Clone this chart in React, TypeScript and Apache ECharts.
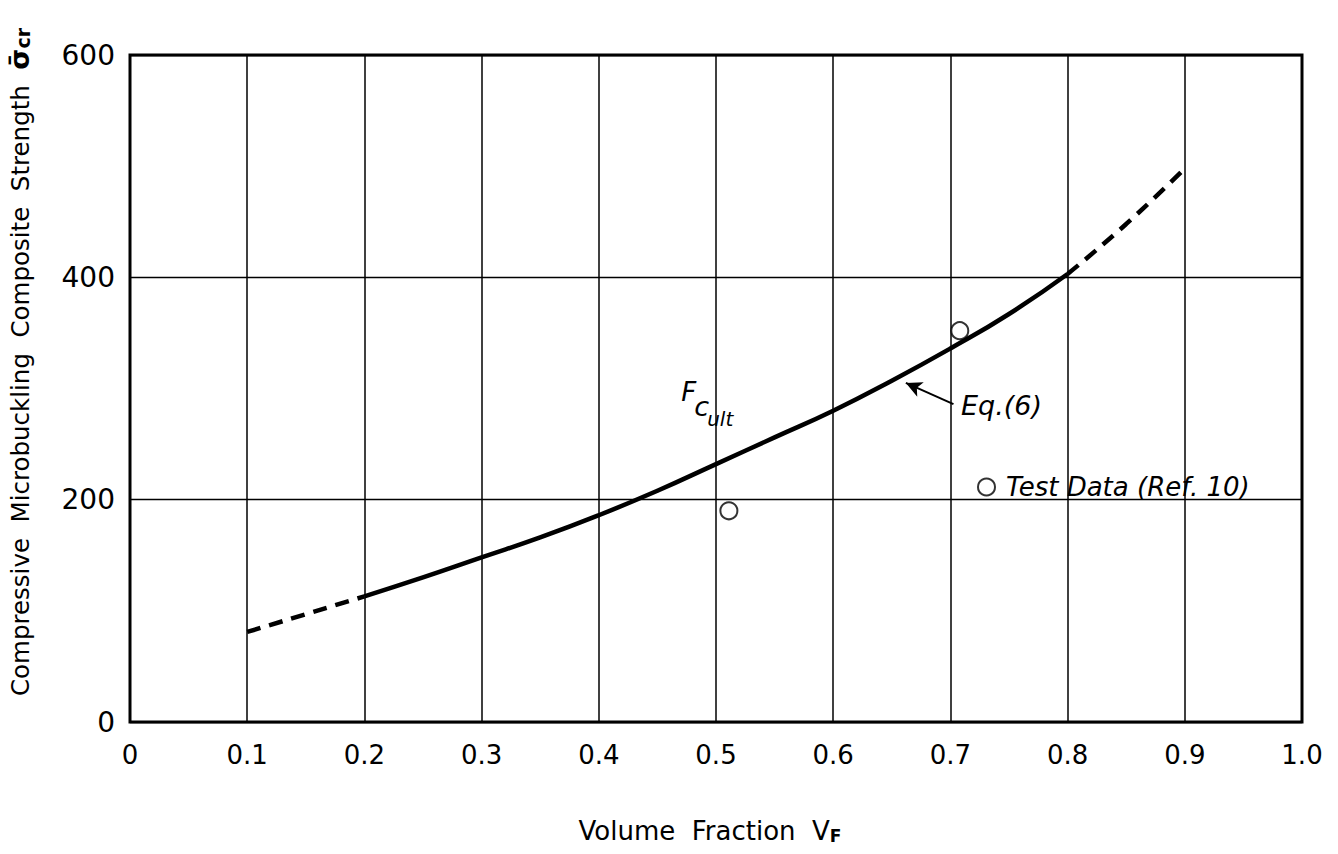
import React, { useEffect, useRef } from "react";
import * as echarts from "echarts";

// ---- data ----
const curveLowDashed: [number, number][] = [
  [0.1, 81], [0.15, 97], [0.2, 113],
];
const curveSolid: [number, number][] = [
  [0.2, 113], [0.25, 130], [0.3, 148], [0.35, 166], [0.4, 186], [0.45, 208],
  [0.5, 232], [0.55, 256], [0.6, 280], [0.65, 307], [0.7, 336], [0.75, 367], [0.8, 403],
];
const curveHighDashed: [number, number][] = [
  [0.8, 403], [0.85, 448], [0.9, 498],
];
const testData: [number, number][] = [
  [0.511, 190], [0.708, 352],
];
const xTicks = [0, 0.1, 0.2, 0.3, 0.4, 0.5, 0.6, 0.7, 0.8, 0.9, 1.0];
const xTickLabels = ["0", "0.1", "0.2", "0.3", "0.4", "0.5", "0.6", "0.7", "0.8", "0.9", "1.0"];
const yTickLabels: Record<number, string> = { 0: "0", 200: "200", 400: "400", 600: "600" };
const arrowTail: [number, number] = [0.7026, 286];
const arrowTip: [number, number] = [0.662, 305];
const eqLabelAnchor: [number, number] = [0.709, 285];
const fcAnchor: [number, number] = [0.472, 293];

const FONT = "DejaVu Sans";

export default function App() {
  const ref = useRef<HTMLDivElement>(null);
  useEffect(() => {
    if (!ref.current) return;
    const chart = echarts.init(ref.current, null, { renderer: "svg" });
    const lineBase = {
      type: "line",
      smooth: 0.5,
      showSymbol: false,
      symbol: "none",
      silent: true,
      z: 5,
    };
    chart.setOption({
      animation: false,
      backgroundColor: "#ffffff",
      grid: {
        left: 130,
        top: 55,
        width: 1172,
        height: 667,
        show: true,
        borderColor: "#000",
        borderWidth: 3,
        backgroundColor: "transparent",
      },
      xAxis: {
        type: "value",
        min: 0,
        max: 1.0,
        interval: 0.1,
        axisLine: { show: false },
        axisTick: { show: false },
        splitLine: { show: true, lineStyle: { color: "#000", width: 1.5 } },
        axisLabel: {
          color: "#000",
          fontFamily: FONT,
          fontSize: 26,
          margin: 20,
          formatter: (v: number) => {
            const i = xTicks.findIndex((t) => Math.abs(t - v) < 1e-6);
            return i >= 0 ? xTickLabels[i] : "";
          },
        },
      },
      yAxis: {
        type: "value",
        min: 0,
        max: 600,
        interval: 200,
        axisLine: { show: false },
        axisTick: { show: false },
        splitLine: { show: true, lineStyle: { color: "#000", width: 1.3 } },
        axisLabel: {
          color: "#000",
          fontFamily: FONT,
          fontSize: 28,
          margin: 15,
          formatter: (v: number) => yTickLabels[Math.round(v)] ?? "",
        },
      },
      legend: {
        left: 972,
        top: 469,
        itemWidth: 17,
        itemHeight: 17,
        itemGap: 10,
        selectedMode: false,
        data: [{ name: "Test Data (Ref. 10)", icon: "circle" }],
        textStyle: {
          color: "#000",
          fontFamily: FONT,
          fontSize: 26,
          fontStyle: "italic",
          padding: [0, 0, 0, 6],
        },
      },
      series: [
        {
          ...lineBase,
          name: "low",
          data: curveLowDashed,
          lineStyle: { color: "#000", width: 4.5, type: [14, 9] },
        },
        {
          ...lineBase,
          name: "Eq.(6)",
          data: curveSolid,
          lineStyle: { color: "#000", width: 4.5 },
          markLine: {
            silent: true,
            symbol: ["none", "arrow"],
            symbolSize: [12, 16],
            label: { show: false },
            lineStyle: { color: "#000", width: 2, type: "solid" },
            data: [[{ coord: arrowTail }, { coord: arrowTip }]],
          },
        },
        {
          ...lineBase,
          name: "high",
          data: curveHighDashed,
          lineStyle: { color: "#000", width: 4.5, type: [14, 9] },
        },
        {
          type: "scatter",
          name: "Test Data (Ref. 10)",
          data: testData,
          symbol: "circle",
          symbolSize: 17,
          z: 6,
          itemStyle: { color: "#fff", borderColor: "#000", borderWidth: 2 },
        },
      ],
    });

    const eq = chart.convertToPixel({ gridIndex: 0 }, eqLabelAnchor) as number[];
    const fc = chart.convertToPixel({ gridIndex: 0 }, fcAnchor) as number[];
    chart.setOption({
      graphic: [
        {
          type: "text",
          x: eq[0],
          y: eq[1],
          style: {
            text: "Eq.(6)",
            fill: "#000",
            font: `italic 27px "${FONT}"`,
            textAlign: "left",
            textVerticalAlign: "middle",
          },
        },
        {
          type: "text",
          x: fc[0] - 2,
          y: fc[1] - 4,
          style: {
            text: "F",
            fill: "#000",
            font: `italic 26px "${FONT}"`,
            textAlign: "left",
            textVerticalAlign: "middle",
          },
        },
        {
          type: "text",
          x: fc[0] + 11,
          y: fc[1] + 10,
          style: {
            text: "c",
            fill: "#000",
            font: `italic 27px "${FONT}"`,
            textAlign: "left",
            textVerticalAlign: "middle",
          },
        },
        {
          type: "text",
          x: fc[0] + 24,
          y: fc[1] + 23,
          style: {
            text: "ult",
            fill: "#000",
            font: `italic 20px "${FONT}"`,
            textAlign: "left",
            textVerticalAlign: "middle",
          },
        },
        {
          type: "text",
          x: 19,
          y: 362,
          rotation: Math.PI / 2,
          style: {
            text: "{a|Compressive  Microbuckling  Composite  Strength  }{s|σ̄}{b|cr}",
            fill: "#000",
            textAlign: "center",
            textVerticalAlign: "middle",
            rich: {
              a: { fontFamily: FONT, fontSize: 24.5, fill: "#000", verticalAlign: "bottom" },
              s: { fontFamily: FONT, fontSize: 27, fontWeight: "bold", fill: "#000", verticalAlign: "bottom" },
              b: { fontFamily: FONT, fontSize: 19, fontWeight: "bold", fill: "#000", verticalAlign: "bottom" },
            },
          },
        },
        {
          type: "text",
          x: 710,
          y: 831,
          style: {
            text: "{a|Volume  Fraction  V}{b|F}",
            fill: "#000",
            textAlign: "center",
            textVerticalAlign: "middle",
            rich: {
              a: { fontFamily: FONT, fontSize: 26, fill: "#000", verticalAlign: "bottom" },
              b: { fontFamily: FONT, fontSize: 17, fontWeight: "bold", fill: "#000", verticalAlign: "bottom" },
            },
          },
        },
      ],
    });

    return () => chart.dispose();
  }, []);
  return (
    <div
      ref={ref}
      style={{ position: "absolute", left: 0, top: 0, width: 1338, height: 854, background: "#fff" }}
    />
  );
}
